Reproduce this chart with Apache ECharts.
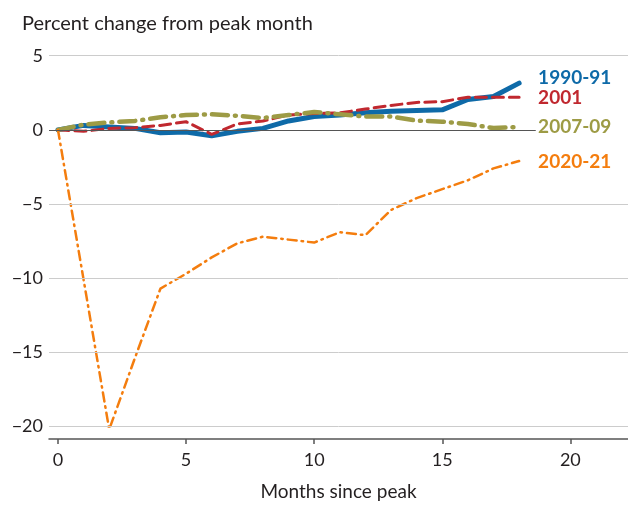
<!DOCTYPE html>
<html>
<head>
<meta charset="utf-8">
<script src="https://cdn.jsdelivr.net/npm/echarts@6/dist/echarts.min.js"></script>
<style>
  html, body { margin: 0; padding: 0; background: #fff; }
  #chart { width: 628px; height: 506px; }
</style>
</head>
<body>
<div id="chart"></div>
<script>
// months since the peak month
const months = [0, 1, 2, 3, 4, 5, 6, 7, 8, 9, 10, 11, 12, 13, 14, 15, 16, 17, 18];

// percent change from peak month, per recession
const r1990 = [0, 0.3, 0.2, 0.1, -0.2, -0.15, -0.4, -0.1, 0.1, 0.6, 0.9, 1.0, 1.15, 1.25, 1.3, 1.35, 2.05, 2.25, 3.15];
const r2001 = [0, -0.1, 0.1, 0.15, 0.3, 0.55, -0.3, 0.4, 0.6, 1.0, 1.1, 1.15, 1.4, 1.65, 1.85, 1.9, 2.2, 2.2, 2.2];
const r2007 = [0, 0.35, 0.5, 0.6, 0.85, 1.0, 1.05, 0.95, 0.8, 1.0, 1.2, 1.05, 0.9, 0.9, 0.62, 0.55, 0.4, 0.12, 0.2];
const r2020 = [0, -10.1, -20.2, -15.4, -10.7, -9.7, -8.6, -7.65, -7.2, -7.4, -7.6, -6.9, -7.1, -5.4, -4.6, -4.0, -3.4, -2.6, -2.1];

const xTicks = [0, 5, 10, 15, 20];
const yTicks = [-20, -15, -10, -5, 0, 5];
const gridValues = [-20, -15, -10, -5, 5]; // light gridlines (0 gets its own dark line)
const zeroLineEnd = 18.65;

const FONT = "Lato";
const TEXT = "#231f20";

function pairs(vals) {
  return months.map((m, i) => [m, vals[i]]);
}

function line(name, vals, color, width, dash, labelOffset) {
  return {
    name: name,
    type: "line",
    z: 3,
    data: pairs(vals),
    symbol: "none",
    lineStyle: { color: color, width: width, type: dash, cap: "round", join: "round" },
    endLabel: {
      show: true,
      formatter: name,
      color: color,
      fontFamily: FONT,
      fontSize: 19,
      fontWeight: "bold",
      distance: 17,
      backgroundColor: "#fff",
      padding: [0, 2],
      offset: labelOffset || [0, 0]
    }
  };
}

const chart = echarts.init(document.getElementById("chart"));

const series = [
  // holder for the gridlines and the dark zero line
  {
    name: "grid",
    type: "line",
    z: 1,
    data: [],
    silent: true,
    markLine: {
      silent: true,
      symbol: "none",
      label: { show: false },
      data: gridValues.map(v => ({ yAxis: v, lineStyle: { color: "#cccccc", width: 1, type: "solid" } }))
        .concat([[
          { coord: [-0.35, 0], lineStyle: { color: "#555", width: 1, type: "solid" } },
          { coord: [zeroLineEnd, 0] }
        ]])
    }
  },
  line("1990-91", r1990, "#0e6aa8", 5, "solid", [0, -5]),
  line("2001", r2001, "#c0282f", 3, [11, 6], [0, 1]),
  line("2007-09", r2007, "#9d9b45", 4.5, [16, 7, 1, 7], [0, 0]),
  line("2020-21", r2020, "#f47d0e", 2.5, [9, 5, 1.5, 5], [0, 1])
];

chart.setOption({
  animation: false,
  textStyle: { fontFamily: FONT },
  title: {
    text: "Percent change from peak month",
    left: 22,
    top: 14,
    padding: 0,
    textStyle: { fontFamily: FONT, fontSize: 20, fontWeight: "normal", color: TEXT }
  },
  grid: { left: 49, right: 0, top: 55.7, bottom: 74.3 },
  xAxis: {
    type: "value",
    min: -0.35,
    max: 22.25,
    offset: 12.5,
    name: "Months since peak",
    nameLocation: "middle",
    nameGap: 43,
    nameTextStyle: { fontFamily: FONT, fontSize: 19, color: TEXT },
    axisLine: { onZero: false, lineStyle: { color: "#555", width: 1.5 } },
    axisTick: { show: true, length: 5, customValues: xTicks, lineStyle: { color: "#555", width: 1.5 } },
    axisLabel: { customValues: xTicks, fontFamily: FONT, fontSize: 18, color: TEXT, margin: 12 },
    splitLine: { show: false }
  },
  yAxis: {
    type: "value",
    min: -20,
    max: 5,
    interval: 5,
    axisLine: { show: false },
    axisTick: { show: false },
    axisLabel: {
      customValues: yTicks,
      fontFamily: FONT,
      fontSize: 18,
      color: TEXT,
      margin: 6,
      formatter: v => String(v).replace("-", "\u2212")
    },
    splitLine: { show: false }
  },
  series: series
});
</script>
</body>
</html>
